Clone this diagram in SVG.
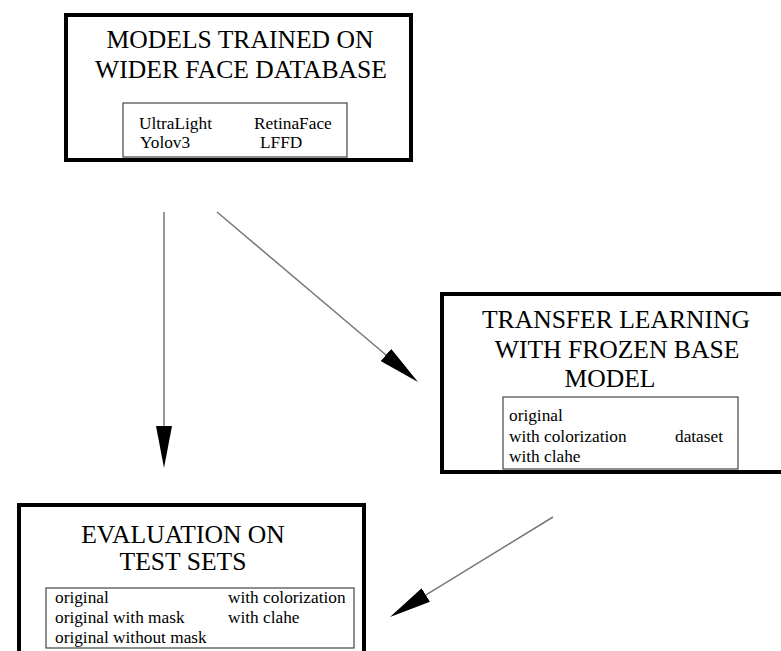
<svg xmlns="http://www.w3.org/2000/svg" width="781" height="651" viewBox="0 0 781 651">
<style>
.outer{fill:#fff;stroke:#000;stroke-width:4}
.inner{fill:#fff;stroke:#444;stroke-width:1.2}
.title{font-family:"Liberation Serif","Times New Roman",serif;font-size:25.6px;fill:#000;text-anchor:middle}
.item{font-family:"Liberation Serif","Times New Roman",serif;font-size:17.3px;fill:#000}
.conn{stroke:#777;stroke-width:1.5;fill:none;marker-end:url(#head)}
</style>
<defs>
<marker id="head" markerUnits="userSpaceOnUse" viewBox="0 0 42 16" refX="4" refY="8" markerWidth="42" markerHeight="16" orient="auto">
<path d="M0,0 L42,8 L0,16 Z" fill="#000"/>
</marker>
</defs>
<rect width="781" height="651" fill="#fff"/>
<g id="node-models">
<rect class="outer" x="66" y="15" width="345" height="145"/>
<text class="title" x="240" y="48">MODELS TRAINED ON</text>
<text class="title" x="241" y="78">WIDER FACE DATABASE</text>
<rect class="inner" x="123" y="103" width="224" height="54"/>
<text class="item" x="139" y="129">UltraLight</text>
<text class="item" x="254" y="129">RetinaFace</text>
<text class="item" x="140" y="148">Yolov3</text>
<text class="item" x="260" y="148">LFFD</text>
</g>
<g id="node-transfer">
<rect class="outer" x="442" y="294" width="360" height="178"/>
<text class="title" x="616" y="328">TRANSFER LEARNING</text>
<text class="title" x="617" y="358">WITH FROZEN BASE</text>
<text class="title" x="610" y="387">MODEL</text>
<rect class="inner" x="503" y="397" width="235" height="72"/>
<text class="item" x="509" y="421">original</text>
<text class="item" x="509" y="442">with colorization</text>
<text class="item" x="675" y="442">dataset</text>
<text class="item" x="509" y="462">with clahe</text>
</g>
<g id="node-evaluation">
<rect class="outer" x="19" y="505" width="345" height="170"/>
<text class="title" x="183" y="543">EVALUATION ON</text>
<text class="title" x="183" y="570">TEST SETS</text>
<rect class="inner" x="46" y="588" width="308" height="60"/>
<text class="item" x="55" y="603">original</text>
<text class="item" x="55" y="623">original with mask</text>
<text class="item" x="55" y="643">original without mask</text>
<text class="item" x="228" y="603">with colorization</text>
<text class="item" x="228" y="623">with clahe</text>
</g>
<g id="connectors">
<line class="conn" x1="164" y1="212" x2="164" y2="430"/>
<line class="conn" x1="217" y1="212" x2="389" y2="357.5"/>
<line class="conn" x1="553" y1="517" x2="422.4" y2="597.1"/>
</g>
</svg>
